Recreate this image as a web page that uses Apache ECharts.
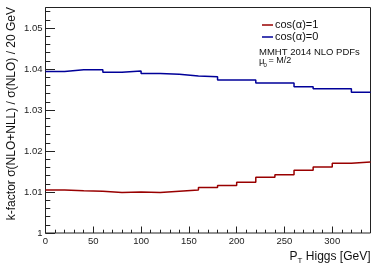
<!DOCTYPE html>
<html>
<head>
<meta charset="utf-8">
<script src="https://cdn.jsdelivr.net/npm/echarts@6/dist/echarts.min.js"></script>
<style>html,body{margin:0;padding:0;background:#fff;}#c{width:382px;height:267px;}</style>
</head>
<body>
<div id="c"></div>
<script>
// bin left edges (GeV), bin width 20 GeV, last edge 340
const binEdges = [0, 20, 40, 60, 80, 100, 120, 140, 160, 180, 200, 220, 240, 260, 280, 300, 320, 340];
// k-factor per bin, cos(alpha)=1
const kCos1 = [1.0105, 1.0103, 1.0102, 1.0099, 1.0100, 1.0099, 1.0102, 1.0105, 1.0111, 1.0116, 1.0124, 1.0136, 1.0142, 1.0153, 1.0161, 1.0170, 1.0173];
// k-factor per bin, cos(alpha)=0
const kCos0 = [1.0394, 1.0398, 1.0398, 1.0392, 1.0395, 1.0389, 1.0387, 1.0383, 1.0381, 1.0373, 1.0373, 1.0366, 1.0366, 1.0357, 1.0352, 1.0352, 1.0343];
const seriesNames = ['cos(\u03b1)=1', 'cos(\u03b1)=0'];
const yTickLabels = ['1', '1.01', '1.02', '1.03', '1.04', '1.05'];

function histPoints(vals) {
  const pts = vals.map((v, i) => [binEdges[i], v]);
  pts.push([binEdges[binEdges.length - 1], vals[vals.length - 1]]);
  return pts;
}

const font = 'Liberation Sans, Arial, Helvetica, sans-serif';
const chart = echarts.init(document.getElementById('c'), null, {renderer: 'canvas'});
const gridLeft = 45.5, gridTop = 7.5, gridRight = 11.5, gridBottom = 34;

chart.setOption({
  animation: false,
  backgroundColor: '#fff',
  grid: {left: gridLeft, top: gridTop, right: gridRight, bottom: gridBottom, show: true, borderColor: '#222', borderWidth: 1, containLabel: false},
  xAxis: [{
    type: 'value', min: 0, max: 340, interval: 50,
    axisLine: {show: false}, splitLine: {show: false},
    axisTick: {show: true, inside: true, length: 6.5, lineStyle: {color: '#222', width: 1}},
    axisLabel: {show: true, showMaxLabel: false, margin: 3, fontSize: 9.5, fontFamily: font, color: '#222'}
  }, {
    type: 'value', min: 0, max: 340, interval: 10, position: 'bottom',
    axisLine: {show: false}, splitLine: {show: false},
    axisTick: {show: true, inside: true, length: 3.3, lineStyle: {color: '#222', width: 1}},
    axisLabel: {show: false}
  }],
  yAxis: [{
    type: 'value', min: 1, max: 1.055, interval: 0.01,
    axisLine: {show: false}, splitLine: {show: false},
    axisTick: {show: true, inside: true, length: 9.5, lineStyle: {color: '#222', width: 1}},
    axisLabel: {show: true, showMaxLabel: false, margin: 3, fontSize: 9.5, fontFamily: font, color: '#222',
      formatter: function (v) { const i = Math.round((v - 1) / 0.01); return yTickLabels[i] !== undefined ? yTickLabels[i] : ''; }}
  }, {
    type: 'value', min: 1, max: 1.055, interval: 0.002, position: 'left',
    axisLine: {show: false}, splitLine: {show: false},
    axisTick: {show: true, inside: true, length: 4.8, lineStyle: {color: '#222', width: 1}},
    axisLabel: {show: false}
  }],
  legend: {
    data: seriesNames, orient: 'vertical', left: 262, top: 19, padding: 0, itemGap: 0,
    icon: 'rect', itemWidth: 11, itemHeight: 1.5,
    textStyle: {fontSize: 11, fontFamily: font, color: '#111', lineHeight: 12, padding: [0, 0, 0, -3]}
  },
  series: [{
    name: seriesNames[0], type: 'line', step: 'end', xAxisIndex: 0, yAxisIndex: 0,
    data: histPoints(kCos1), symbol: 'none', color: '#990000',
    lineStyle: {color: '#990000', width: 1.5}
  }, {
    name: seriesNames[1], type: 'line', step: 'end', xAxisIndex: 0, yAxisIndex: 0,
    data: histPoints(kCos0), symbol: 'none', color: '#000099',
    lineStyle: {color: '#000099', width: 1.5}
  }],
  graphic: [
    {type: 'text', left: 259, top: 47.5, style: {text: 'MMHT 2014 NLO PDFs', fontSize: 9.5, fontFamily: font, fill: '#111'}},
    {type: 'text', left: 259, top: 56.5, style: {text: '\u03bc', fontSize: 9.5, fontFamily: font, fill: '#111'}},
    {type: 'text', left: 263.5, top: 62.5, style: {text: '0', fontSize: 6, fontFamily: font, fill: '#111'}},
    {type: 'text', left: 268.5, top: 56.5, style: {text: '= M/2', fontSize: 9, fontFamily: font, fill: '#111'}},
    {type: 'text', x: 6, y: 7, rotation: Math.PI / 2,
      style: {text: 'k-factor \u03c3(NLO+NLL) / \u03c3(NLO) / 20 GeV', fontSize: 12, fontFamily: font, fill: '#111', align: 'right', verticalAlign: 'top'}},
    {type: 'text', x: 370.5, y: 251, style: {
      text: '{n|P}{s|T}{n| Higgs [GeV]}', align: 'right', verticalAlign: 'top', fill: '#111', fontFamily: font,
      rich: {n: {fontSize: 12, fontFamily: font, fill: '#111', verticalAlign: 'top'},
             s: {fontSize: 8, fontFamily: font, fill: '#111', verticalAlign: 'top', padding: [6, 0, 0, 0]}}}}
  ]
});
</script>
</body>
</html>
